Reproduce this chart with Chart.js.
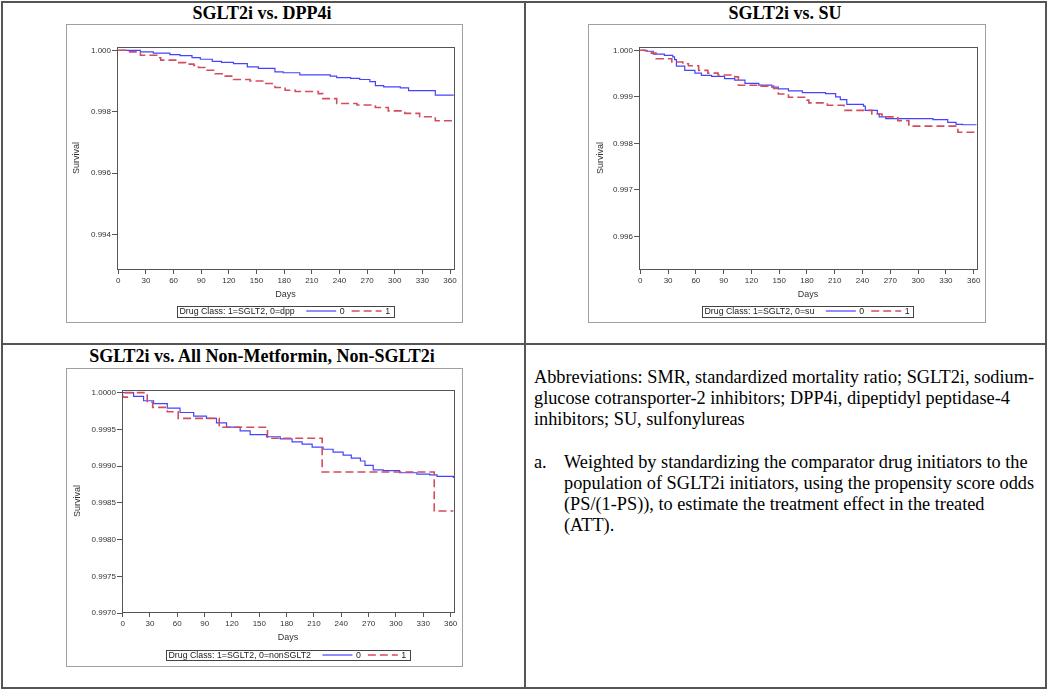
<!DOCTYPE html>
<html><head><meta charset="utf-8">
<script src="https://cdn.jsdelivr.net/npm/chart.js@4.4.0/dist/chart.umd.min.js"></script>
<style>
html,body{margin:0;padding:0;background:#fff;}
body{width:1050px;height:691px;position:relative;overflow:hidden;font-family:"Liberation Serif","Times New Roman",serif;}
.ln{position:absolute;background:#555;}
.frame{position:absolute;border:1.5px solid #a0a0a0;box-sizing:border-box;pointer-events:none;z-index:2;}
.title{position:absolute;font-weight:bold;font-size:18px;white-space:nowrap;transform:translate(-50%,-50%);color:#000;}
canvas{position:absolute;}
.note{position:absolute;font-size:18.3px;line-height:21px;color:#000;white-space:nowrap;}
</style></head>
<body>
<!-- table grid -->
<div class="ln" style="left:1px;top:1px;width:1046px;height:2px"></div>
<div class="ln" style="left:1px;top:687px;width:1046px;height:2px"></div>
<div class="ln" style="left:1px;top:1px;width:2px;height:688px"></div>
<div class="ln" style="left:1045px;top:1px;width:2px;height:688px"></div>
<div class="ln" style="left:524px;top:1px;width:2px;height:688px"></div>
<div class="ln" style="left:1px;top:343px;width:1046px;height:2px"></div>

<div class="title" id="t1" style="left:262px;top:13px"></div>
<div class="title" id="t2" style="left:785px;top:13px"></div>
<div class="title" id="t3" style="left:262px;top:356px"></div>

<div class="frame" style="left:66px;top:24px;width:397px;height:299px"></div>
<div class="frame" style="left:588px;top:24px;width:398px;height:299px"></div>
<div class="frame" style="left:66px;top:368px;width:397px;height:299px"></div>

<div style="position:absolute;left:66px;top:24px;width:397px;height:299px"><canvas id="c1"></canvas></div>
<div style="position:absolute;left:588px;top:24px;width:398px;height:299px"><canvas id="c2"></canvas></div>
<div style="position:absolute;left:66px;top:368px;width:397px;height:299px"><canvas id="c3"></canvas></div>

<div class="note" style="left:534px;top:367px">Abbreviations: SMR, standardized mortality ratio; SGLT2i, sodium-<br>glucose cotransporter-2 inhibitors; DPP4i, dipeptidyl peptidase-4<br>inhibitors; SU, sulfonylureas</div>
<div class="note" style="left:534px;top:452px">a.</div>
<div class="note" style="left:564px;top:452px">Weighted by standardizing the comparator drug initiators to the<br>population of SGLT2i initiators, using the propensity score odds<br>(PS/(1-PS)), to estimate the treatment effect in the treated<br>(ATT).</div>

<script>
// ---------- titles ----------
const panelTitles = ["SGLT2i vs. DPP4i", "SGLT2i vs. SU", "SGLT2i vs. All Non-Metformin, Non-SGLT2i"];
const legendTitles = ["Drug Class: 1=SGLT2, 0=dpp", "Drug Class: 1=SGLT2, 0=su", "Drug Class: 1=SGLT2, 0=nonSGLT2"];
const classLabels = ["0", "1"];
const xAxisTitle = "Days";
const yAxisTitle = "Survival";

// ---------- tick labels ----------
const xTickLabels = ["0","30","60","90","120","150","180","210","240","270","300","330","360"];
const yTickLabels1 = ["0.994","0.996","0.998","1.000"];
const yTickLabels2 = ["0.996","0.997","0.998","0.999","1.000"];
const yTickLabels3 = ["0.9970","0.9975","0.9980","0.9985","0.9990","0.9995","1.0000"];

// ---------- chart 1: SGLT2i vs DPP4i ----------
const c1Days0 = [0, 24, 38, 56, 67, 80, 89, 102, 112, 125, 140, 152, 170, 179, 197, 230, 237, 252, 262, 273, 279, 288, 306, 315, 344, 364];
const c1Surv0 = [1.0, 0.99995, 0.99991, 0.99986, 0.99983, 0.99976, 0.99971, 0.99964, 0.99961, 0.99957, 0.99946, 0.99941, 0.99930, 0.99927, 0.99920, 0.99916, 0.99911, 0.99909, 0.99905, 0.99898, 0.99885, 0.99881, 0.99878, 0.99869, 0.99854, 0.99854];
const c1Days1 = [0, 9, 24, 42, 46, 64, 73, 82, 87, 94, 105, 116, 125, 143, 158, 170, 181, 192, 217, 222, 237, 259, 279, 293, 311, 327, 344, 364];
const c1Surv1 = [1.0, 0.99995, 0.99984, 0.99976, 0.99968, 0.99960, 0.99955, 0.99951, 0.99944, 0.99935, 0.99924, 0.99916, 0.99905, 0.99900, 0.99892, 0.99879, 0.99870, 0.99866, 0.99859, 0.99843, 0.99827, 0.99822, 0.99814, 0.99803, 0.99795, 0.99784, 0.99771, 0.99771];

// ---------- chart 2: SGLT2i vs SU ----------
const c2Days0 = [0, 7, 14, 26, 35, 37, 39, 48, 59, 66, 77, 91, 102, 113, 128, 142, 149, 160, 175, 200, 211, 216, 223, 241, 243, 256, 258, 265, 316, 332, 341, 348, 363];
const c2Surv0 = [1.0, 0.99998, 0.99992, 0.99989, 0.99986, 0.99980, 0.99966, 0.99957, 0.99951, 0.99946, 0.99944, 0.99939, 0.99936, 0.99929, 0.99925, 0.99921, 0.99917, 0.99913, 0.99909, 0.99907, 0.99900, 0.99894, 0.99884, 0.99880, 0.99871, 0.99864, 0.99857, 0.99853, 0.99851, 0.99845, 0.99841, 0.99840, 0.99840];
const c2Days1 = [0, 5, 12, 17, 34, 46, 52, 63, 73, 84, 102, 106, 128, 144, 149, 160, 180, 182, 202, 220, 250, 261, 278, 290, 343, 363];
const c2Surv1 = [1.0, 0.99999, 0.99994, 0.99982, 0.99975, 0.99971, 0.99967, 0.99957, 0.99951, 0.99947, 0.99943, 0.99925, 0.99923, 0.99918, 0.99906, 0.99899, 0.99893, 0.99887, 0.99882, 0.99871, 0.99863, 0.99857, 0.99849, 0.99837, 0.99824, 0.99824];

// ---------- chart 3: SGLT2i vs all non-metformin, non-SGLT2i ----------
const c3Days0 = [0, 12, 23, 34, 49, 63, 78, 92, 103, 114, 129, 140, 158, 173, 186, 197, 208, 220, 231, 242, 251, 261, 266, 275, 286, 304, 323, 337, 345, 363];
const c3Surv0 = [1.0, 0.99995, 0.99989, 0.99985, 0.99979, 0.99973, 0.99968, 0.99965, 0.99959, 0.99953, 0.99948, 0.99943, 0.99940, 0.99937, 0.99933, 0.99930, 0.99926, 0.99923, 0.99919, 0.99915, 0.99911, 0.99907, 0.99901, 0.99895, 0.99894, 0.99891, 0.99889, 0.99888, 0.99886, 0.99884];
const c3Days1 = [6, 0, 0, 27, 33, 49, 61, 106, 159, 219, 342, 363];
const c3Surv1 = [0.99994, 0.99994, 1.0, 0.99987, 0.99980, 0.99974, 0.99965, 0.99953, 0.99938, 0.99892, 0.99839, 0.99839];

// ---------- drawing ----------
document.getElementById('t1').textContent = panelTitles[0];
document.getElementById('t2').textContent = panelTitles[1];
document.getElementById('t3').textContent = panelTitles[2];

const BLUE = '#4444ff';
const RED = '#d24e5c';
const SANS = '"Liberation Sans", Arial, sans-serif';

const framePlugin = {
  id: 'plotFrame',
  afterDatasetsDraw(chart) {
    const a = chart.chartArea, ctx = chart.ctx;
    ctx.save();
    ctx.strokeStyle = '#555';
    ctx.lineWidth = 1;
    ctx.strokeRect(Math.round(a.left) + 0.5, Math.round(a.top) + 0.5, Math.round(a.right - a.left), Math.round(a.bottom - a.top));
    ctx.restore();
  }
};

const legendPlugin = {
  id: 'kmLegend',
  afterDraw(chart, args, opts) {
    const ctx = chart.ctx, a = chart.chartArea;
    ctx.save();
    ctx.font = '8.8px ' + SANS;
    ctx.textBaseline = 'middle';
    const ds = chart.data.datasets;
    const tw = ctx.measureText(opts.title).width;
    const w0 = ctx.measureText(ds[0].label).width;
    const w1 = ctx.measureText(ds[1].label).width;
    const total = 2.5 + tw + 11.5 + 30 + 3.5 + w0 + 7 + 30 + 3.5 + w1 + 3.5;
    const cx = (a.left + a.right) / 2;
    const cy = chart.height - opts.bottomOffset;
    let x = Math.round(cx - total / 2);
    const h = opts.boxHeight;
    ctx.strokeStyle = '#444';
    ctx.lineWidth = 1;
    ctx.strokeRect(x + 0.5, Math.round(cy - h / 2) + 0.5, Math.round(total), h);
    ctx.fillStyle = '#222';
    x += 2.5;
    ctx.fillText(opts.title, x, cy + 0.5);
    x += tw + 11.5;
    ctx.strokeStyle = ds[0].borderColor; ctx.lineWidth = ds[0].borderWidth; ctx.setLineDash([]);
    ctx.beginPath(); ctx.moveTo(x, cy); ctx.lineTo(x + 30, cy); ctx.stroke();
    x += 33.5;
    ctx.fillText(ds[0].label, x, cy + 0.5);
    x += w0 + 7;
    ctx.strokeStyle = ds[1].borderColor; ctx.lineWidth = ds[1].borderWidth; ctx.setLineDash(ds[1].borderDash);
    ctx.beginPath(); ctx.moveTo(x, cy); ctx.lineTo(x + 30, cy); ctx.stroke();
    ctx.setLineDash([]);
    x += 33.5;
    ctx.fillText(ds[1].label, x, cy + 0.5);
    ctx.restore();
  }
};

function toPts(xs, ys) { return xs.map((x, i) => ({x: x, y: ys[i]})); }

function makeChart(id, o) {
  const yVals = o.yLabels.map(Number);
  const xVals = xTickLabels.map(Number);
  return new Chart(document.getElementById(id), {
    type: 'line',
    data: {
      datasets: [
        {label: classLabels[0], data: toPts(o.d0, o.s0), borderColor: BLUE, borderWidth: 1.2, pointRadius: 0, stepped: true, fill: false, order: 2},
        {label: classLabels[1], data: toPts(o.d1, o.s1), borderColor: RED, borderWidth: 1.6, borderDash: [8, 4], pointRadius: 0, stepped: true, fill: false, order: 1}
      ]
    },
    options: {
      responsive: true,
      maintainAspectRatio: false,
      animation: false,
      parsing: false,
      normalized: false,
      layout: {padding: {left: 0, right: o.padRight, top: o.padTop, bottom: o.padBottom}},
      plugins: {
        legend: {display: false},
        tooltip: {enabled: false},
        kmLegend: {title: o.legendTitle, bottomOffset: 12, boxHeight: o.boxH}
      },
      scales: {
        x: {
          type: 'linear', min: o.xMin, max: o.xMax,
          afterBuildTicks: s => { s.ticks = xVals.map(v => ({value: v})); },
          afterFit: s => { s.height = o.xAxisH; },
          ticks: {callback: (v, i) => xTickLabels[i], autoSkip: false, maxRotation: 0, font: {family: SANS, size: 8}, color: '#333', padding: 2},
          grid: {display: true, drawOnChartArea: false, drawTicks: true, tickLength: 5, color: '#555'},
          border: {display: false},
          title: {display: true, text: xAxisTitle, font: {family: SANS, size: 9}, color: '#333', padding: {top: 0, bottom: 0}}
        },
        y: {
          type: 'linear', min: o.yMin, max: o.yMax,
          afterBuildTicks: s => { s.ticks = yVals.map(v => ({value: v})); },
          afterFit: s => { s.width = o.yAxisW; },
          ticks: {callback: (v, i) => o.yLabels[i], autoSkip: false, font: {family: SANS, size: 8}, color: '#333', padding: 1},
          grid: {display: true, drawOnChartArea: false, drawTicks: true, tickLength: 5, color: '#555'},
          border: {display: false},
          title: {display: true, text: yAxisTitle, font: {family: SANS, size: 9}, color: '#333', padding: {top: o.yTitlePad, bottom: 0}}
        }
      }
    },
    plugins: [framePlugin, legendPlugin]
  });
}

makeChart('c1', {d0: c1Days0, s0: c1Surv0, d1: c1Days1, s1: c1Surv1, yLabels: yTickLabels1,
  xMin: -1.4, xMax: 364.3, yMin: 0.992886, yMax: 1.000108, legendTitle: legendTitles[0],
  padTop: 23, padRight: 9, padBottom: 23, xAxisH: 31, yAxisW: 51, yTitlePad: 5.6, boxH: 11});
makeChart('c2', {d0: c2Days0, s0: c2Surv0, d1: c2Days1, s1: c2Surv1, yLabels: yTickLabels2,
  xMin: -1.4, xMax: 363.6, yMin: 0.995300, yMax: 1.0000714, legendTitle: legendTitles[1],
  padTop: 23, padRight: 9, padBottom: 23, xAxisH: 31, yAxisW: 51, yTitlePad: 7.6, boxH: 11});
makeChart('c3', {d0: c3Days0, s0: c3Surv0, d1: c3Days1, s1: c3Surv1, yLabels: yTickLabels3,
  xMin: -0.7, xMax: 363.7, yMin: 0.997014, yMax: 1.0000364, legendTitle: legendTitles[2],
  padTop: 22, padRight: 9, padBottom: 24, xAxisH: 31, yAxisW: 56, yTitlePad: 6.6, boxH: 10});
</script>
</body></html>
